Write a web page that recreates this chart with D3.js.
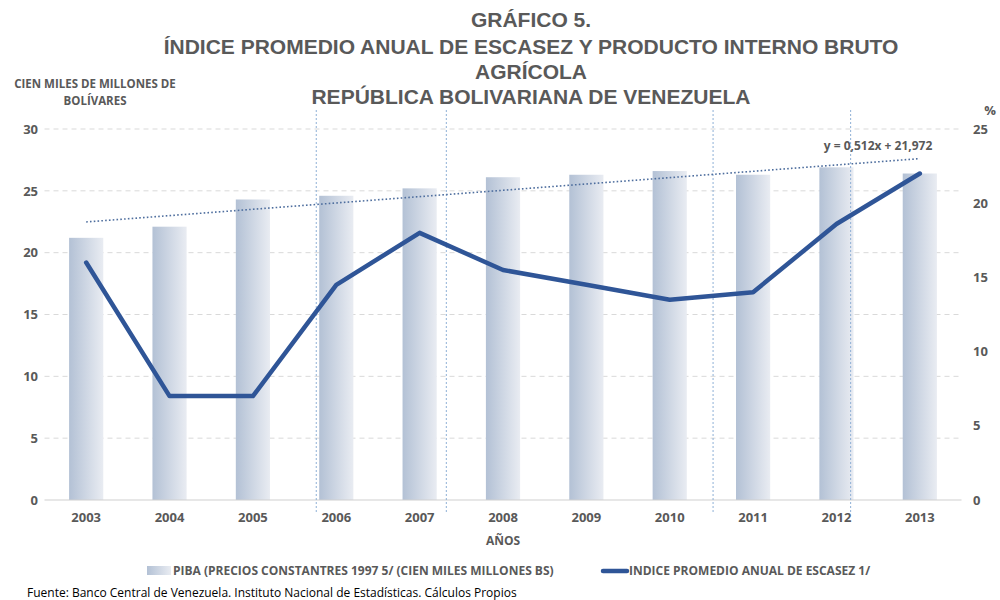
<!DOCTYPE html>
<html><head><meta charset="utf-8">
<script src="https://cdn.jsdelivr.net/npm/d3@7"></script>
<style>body{margin:0;background:#fff}svg{display:block}</style>
</head><body>
<script>
const years = ["2003","2004","2005","2006","2007","2008","2009","2010","2011","2012","2013"];
const piba = [21.2, 22.1, 24.3, 24.6, 25.2, 26.1, 26.3, 26.6, 26.3, 26.9, 26.4];
const escasez = [16.0, 7.0, 7.0, 14.5, 18.0, 15.5, 14.5, 13.5, 14.0, 18.6, 22.0];
const trendSlope = 0.512, trendIntercept = 21.972;
const leftTicks = [0,5,10,15,20,25,30];
const rightTicks = [0,5,10,15,20,25];
const separators = [2.76, 4.32, 7.52, 9.17]; // positions in category index units
const titleLines = ["GRÁFICO 5.","ÍNDICE PROMEDIO ANUAL DE ESCASEZ Y PRODUCTO INTERNO BRUTO","AGRÍCOLA","REPÚBLICA BOLIVARIANA DE VENEZUELA"];

const W=1000,H=600;
const svg=d3.select("body").append("svg").attr("width",W).attr("height",H);
const defs=svg.append("defs");
const g=defs.append("linearGradient").attr("id","bg").attr("x1","0").attr("x2","1").attr("y1","0").attr("y2","0");
g.append("stop").attr("offset","0").attr("stop-color","#b3c1d5");
g.append("stop").attr("offset","1").attr("stop-color","#e9ecf2");

const L=44.5,R=961.5,T=129,B=500;
const x=d3.scaleBand().domain(years).range([L,R]).paddingInner(0.59).paddingOuter(0.295);
const xc=d=>x(d)+x.bandwidth()/2;
const step=x.step();
const xi=i=>xc(years[0])+i*step;
const yL=d3.scaleLinear().domain([0,30]).range([B,T]);
const yR=d3.scaleLinear().domain([0,25]).range([B,T]);
const grey="#595959";
const lab="'Open Sans', Lato, sans-serif";

// gridlines
svg.append("g").selectAll("line").data(leftTicks.filter(d=>d>0)).join("line")
 .attr("x1",L).attr("x2",R).attr("y1",d=>yL(d)).attr("y2",d=>yL(d))
 .attr("stroke","#d9d9d9").attr("stroke-width",1).attr("stroke-dasharray","5,4");

// bars
svg.append("g").selectAll("rect").data(years).join("rect")
 .attr("x",d=>x(d)).attr("width",x.bandwidth())
 .attr("y",(d,i)=>yL(piba[i])).attr("height",(d,i)=>B-yL(piba[i]))
 .attr("fill","url(#bg)");

// baseline
svg.append("line").attr("x1",L).attr("x2",R).attr("y1",B).attr("y2",B).attr("stroke","#d0d0d0").attr("stroke-width",1.2);

// separators
svg.append("g").selectAll("line").data(separators).join("line")
 .attr("x1",d=>xi(d)).attr("x2",d=>xi(d)).attr("y1",110).attr("y2",513)
 .attr("stroke","#8fb0d6").attr("stroke-width",1).attr("stroke-dasharray","2,2");

// trend
const tr=years.map((d,i)=>[xc(d),yL(trendSlope*(i+1)+trendIntercept)]);
svg.append("path").attr("d",d3.line()(tr)).attr("fill","none")
 .attr("stroke","#4e6e9e").attr("stroke-width",1.6).attr("stroke-dasharray","1.6,2.2");
svg.append("text").attr("x",878).attr("y",150).attr("text-anchor","middle")
 .attr("font-family",lab).attr("font-weight","bold").attr("font-size",12).attr("fill",grey)
 .text("y = 0,512x + 21,972");

// line
svg.append("path").attr("d",d3.line().x((d,i)=>xc(years[i])).y(d=>yR(d))(escasez))
 .attr("fill","none").attr("stroke","#2f5597").attr("stroke-width",4.5)
 .attr("stroke-linejoin","round").attr("stroke-linecap","round");

// axes
const ax=svg.append("g").attr("transform",`translate(0,${B})`)
 .call(d3.axisBottom(x).tickSize(0).tickPadding(13));
ax.select(".domain").remove();
ax.selectAll("text").attr("font-family",lab).attr("font-weight","bold").attr("font-size",13).attr("fill",grey);

const ayl=svg.append("g").attr("transform",`translate(38,0)`)
 .call(d3.axisLeft(yL).tickValues(leftTicks).tickSize(0).tickPadding(0));
ayl.select(".domain").remove();
ayl.selectAll("text").attr("font-family",lab).attr("font-weight","bold").attr("font-size",13).attr("fill",grey);

const ayr=svg.append("g").attr("transform",`translate(973,0)`)
 .call(d3.axisRight(yR).tickValues(rightTicks).tickSize(0).tickPadding(0));
ayr.select(".domain").remove();
ayr.selectAll("text").attr("font-family",lab).attr("font-weight","bold").attr("font-size",13).attr("fill",grey);

// titles
const ty=[27,54,79,104];
titleLines.forEach((t,i)=>svg.append("text").attr("x",531).attr("y",ty[i]).attr("text-anchor","middle")
 .attr("font-family","'Liberation Sans', Arial, sans-serif").attr("font-weight","bold").attr("font-size",21).attr("fill",grey).text(t));

svg.append("text").attr("x",95).attr("y",88).attr("text-anchor","middle").attr("font-family",lab).attr("font-weight","bold").attr("font-size",11.5).attr("fill",grey).text("CIEN MILES DE MILLONES DE");
svg.append("text").attr("x",95).attr("y",105).attr("text-anchor","middle").attr("font-family",lab).attr("font-weight","bold").attr("font-size",11.5).attr("fill",grey).text("BOLÍVARES");
svg.append("text").attr("x",990).attr("y",115).attr("text-anchor","middle").attr("font-family",lab).attr("font-weight","bold").attr("font-size",13).attr("fill",grey).text("%");
svg.append("text").attr("x",503).attr("y",545).attr("text-anchor","middle").attr("font-family",lab).attr("font-weight","bold").attr("font-size",12).attr("fill",grey).text("AÑOS");

// legend
svg.append("rect").attr("x",147).attr("y",566).attr("width",24).attr("height",9).attr("fill","url(#bg)");
svg.append("text").attr("x",173).attr("y",575).attr("font-family",lab).attr("font-weight","bold").attr("font-size",12).attr("fill",grey).text("PIBA (PRECIOS CONSTANTRES 1997 5/ (CIEN MILES MILLONES BS)");
svg.append("line").attr("x1",603).attr("x2",627).attr("y1",571).attr("y2",571).attr("stroke","#2f5597").attr("stroke-width",4.5).attr("stroke-linecap","round");
svg.append("text").attr("x",629).attr("y",575).attr("font-family",lab).attr("font-weight","bold").attr("font-size",12).attr("fill",grey).text("INDICE PROMEDIO ANUAL DE ESCASEZ 1/");

svg.append("text").attr("x",27).attr("y",597).attr("font-family",lab).attr("font-size",12).attr("fill","#000").text("Fuente: Banco Central de Venezuela. Instituto Nacional de Estadísticas. Cálculos Propios");
</script>
</body></html>
